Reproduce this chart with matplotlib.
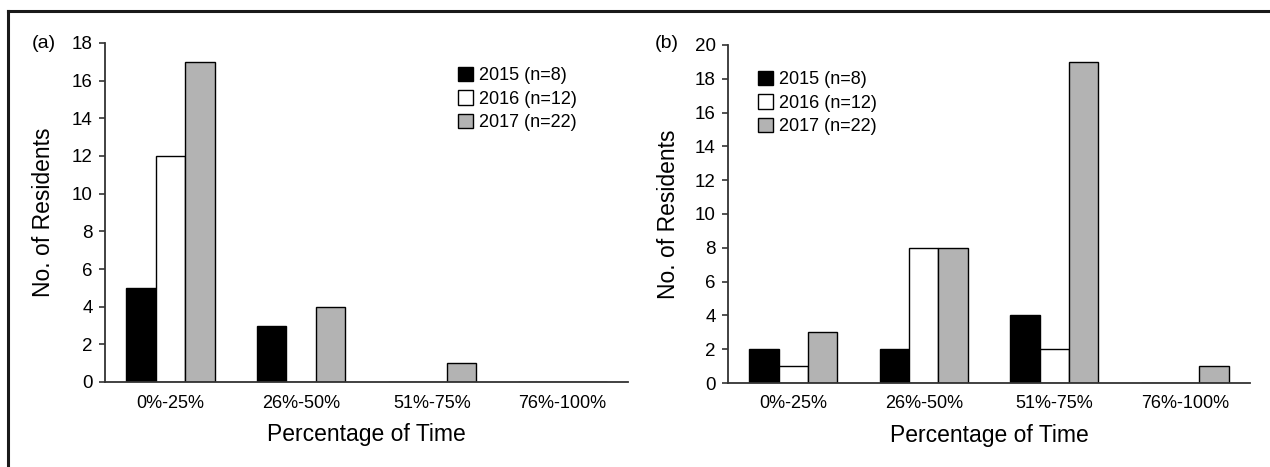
import matplotlib
matplotlib.use('Agg')
import matplotlib.pyplot as plt
from matplotlib.lines import Line2D
import numpy as np

plt.rcParams['font.family'] = ['Liberation Sans', 'DejaVu Sans']

categories = ['0%-25%', '26%-50%', '51%-75%', '76%-100%']
series_labels = ['2015 (n=8)', '2016 (n=12)', '2017 (n=22)']

# panel (a)
a_2015 = [5, 3, 0, 0]
a_2016 = [12, 0, 0, 0]
a_2017 = [17, 4, 1, 0]

# panel (b)
b_2015 = [2, 2, 4, 0]
b_2016 = [1, 8, 2, 0]
b_2017 = [3, 8, 19, 1]

colors = ['black', 'white', '#b3b3b3']

W, H = 1270, 467
fig = plt.figure(figsize=(12.7, 4.67), dpi=100)


def px_box(x0, x1, y_top, y_bot):
    return [x0 / W, 1 - y_bot / H, (x1 - x0) / W, (y_bot - y_top) / H]


def draw_panel(ax, data, ymax, tag, tag_x, leg_xy, ylab_x):
    x = np.arange(len(categories))
    bw = 0.225
    for i, vals in enumerate(data):
        ax.bar(x + (i - 1) * bw, vals, bw, color=colors[i], edgecolor='black',
               linewidth=1.0, label=series_labels[i])
    ax.set_xlim(-0.5, len(categories) - 0.5)
    ax.set_ylim(0, ymax)
    ax.set_yticks(np.arange(0, ymax + 1, 2))
    ax.set_xticks(x)
    ax.set_xticklabels(categories)
    for s in ['top', 'right']:
        ax.spines[s].set_visible(False)
    for s in ['left', 'bottom']:
        ax.spines[s].set_color('#333333')
        ax.spines[s].set_linewidth(1.3)
    ax.tick_params(axis='y', direction='out', length=4, width=1.2, color='#333333',
                   labelsize=13.5, pad=5)
    ax.tick_params(axis='x', length=0, labelsize=13, pad=9)
    ax.set_xlabel('Percentage of Time', fontsize=16.5, labelpad=8)
    ax.set_ylabel('No. of Residents', fontsize=16.5)
    ax.yaxis.set_label_coords(ylab_x, 0.5)
    fig.text(tag_x / W, 1 - 43 / H, tag, fontsize=14, va='center', ha='left')
    ax.legend(loc='upper left', bbox_to_anchor=(leg_xy[0] / W, 1 - leg_xy[1] / H),
              bbox_transform=fig.transFigure, frameon=False, fontsize=13,
              borderpad=0, borderaxespad=0, handlelength=0.85, handleheight=0.85,
              handletextpad=0.3, labelspacing=0.33)


ax1 = fig.add_axes(px_box(105, 628, 43, 382))
draw_panel(ax1, [a_2015, a_2016, a_2017], 18, '(a)', 32, (458, 67), (55 - 105) / 523)

ax2 = fig.add_axes(px_box(728, 1250, 45, 383))
draw_panel(ax2, [b_2015, b_2016, b_2017], 20, '(b)', 655, (758, 71), (680 - 728) / 522)

# frame lines (top and left)
fig.add_artist(Line2D([8 / W, 1], [1 - 11 / H, 1 - 11 / H], color='#1a1a1a', linewidth=2.2))
fig.add_artist(Line2D([8 / W, 8 / W], [0, 1 - 11 / H], color='#1a1a1a', linewidth=2.2))

fig.savefig('out.png', dpi=100)
